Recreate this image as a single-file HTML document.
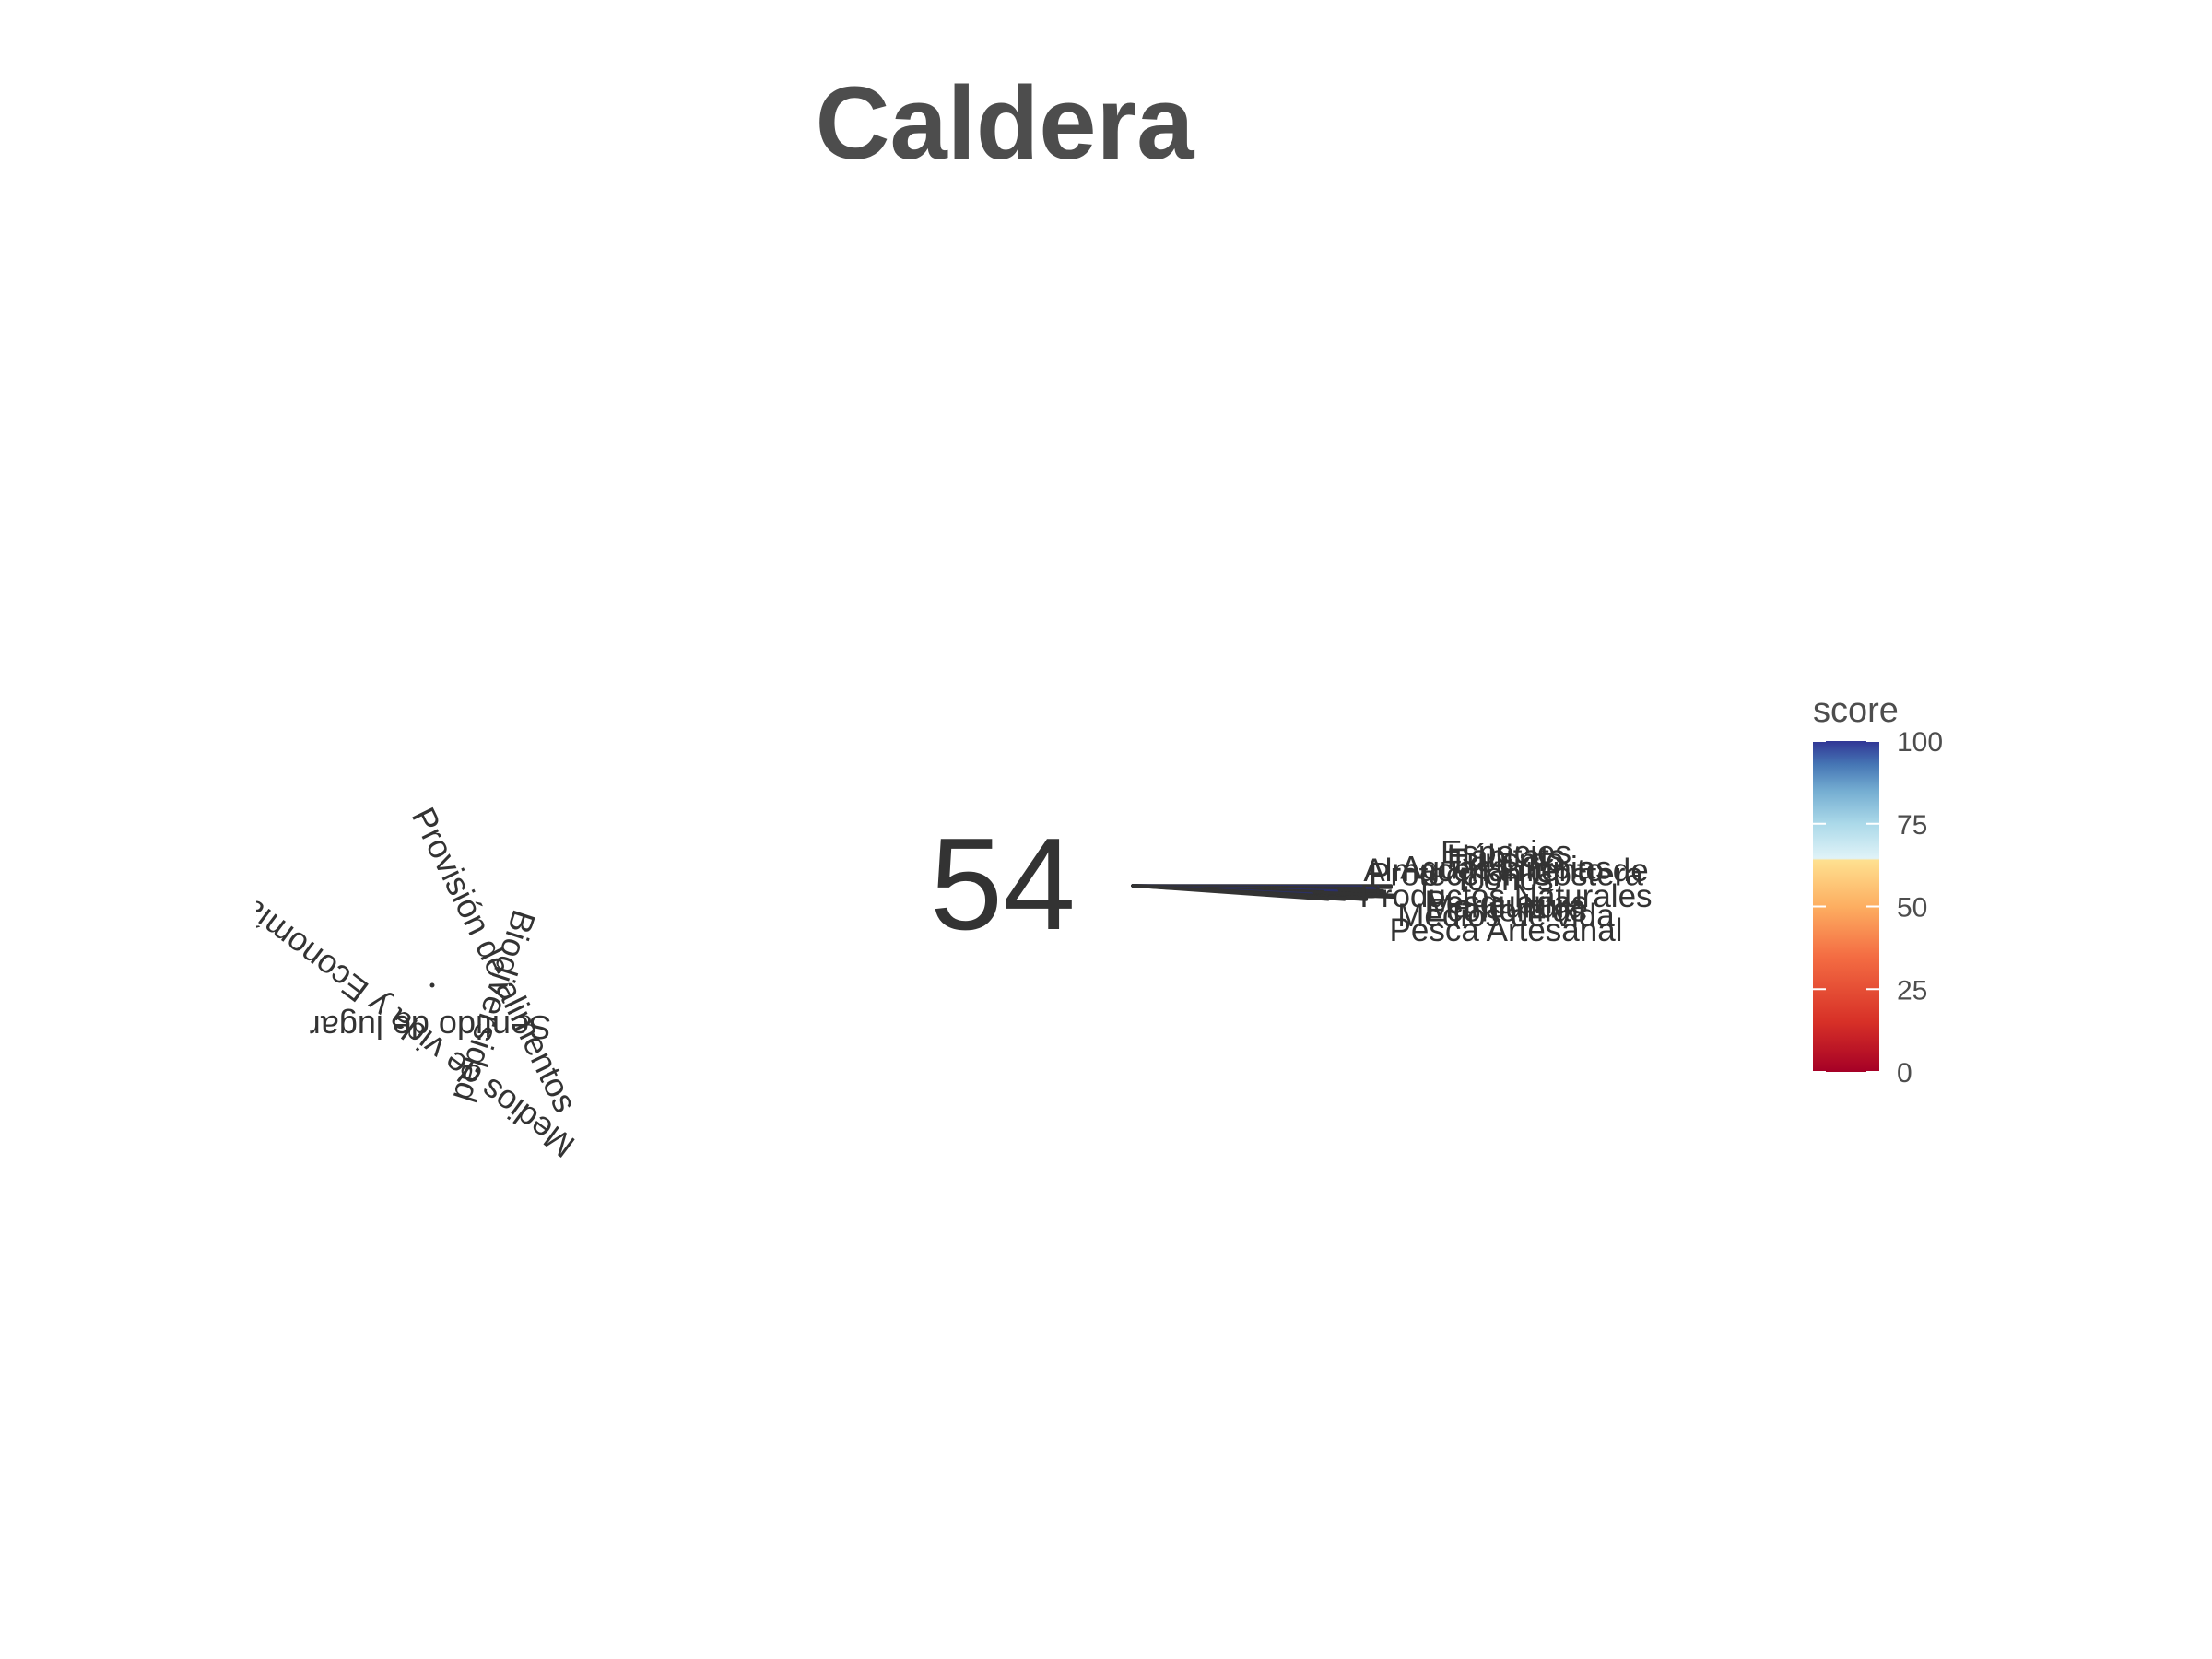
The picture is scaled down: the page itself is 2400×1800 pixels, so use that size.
<!DOCTYPE html>
<html><head><meta charset="utf-8"><style>
html,body{margin:0;padding:0;background:#fff;}
svg{display:block;font-family:"Liberation Sans",sans-serif;}
</style></head><body>
<svg width="2400" height="1800" viewBox="0 0 2400 1800">
<defs>
<linearGradient id="cb" x1="0" y1="1" x2="0" y2="0">
<stop offset="0" stop-color="#a50026"/><stop offset="0.15" stop-color="#d73027"/><stop offset="0.35" stop-color="#f46d43"/><stop offset="0.5" stop-color="#fdae61"/><stop offset="0.64" stop-color="#fee090"/><stop offset="0.645" stop-color="#e0f3f8"/><stop offset="0.75" stop-color="#abd9e9"/><stop offset="0.85" stop-color="#74add1"/><stop offset="0.93" stop-color="#4575b4"/><stop offset="1" stop-color="#313695"/>
</linearGradient>
<clipPath id="pc"><rect x="278" y="0" width="2122" height="1800"/></clipPath>
</defs>
<text x="1090" y="172" text-anchor="middle" font-size="112" font-weight="bold" fill="#4d4d4d">Caldera</text>
<text x="1088" y="1008" text-anchor="middle" font-size="142" fill="#333">54</text>

<g clip-path="url(#pc)" fill="#333" font-size="36">
<text transform="translate(446,884) rotate(64)">Provisión de alimentos</text>
<text transform="translate(558,985) rotate(108)">Biodiversidad</text>
<text transform="translate(626,1238) rotate(217)">Medios de vida y Economía</text>
<text transform="translate(598,1102) rotate(180)">Sentido de lugar</text>
<circle cx="469" cy="1069" r="2.5"/>
</g>

<g id="petals"></g>
<g id="labels" fill="#333" font-size="35" text-anchor="middle"></g>

<rect x="1967" y="804" width="72" height="359" fill="url(#cb)"/>
<text x="1967" y="783" font-size="38" fill="#4d4d4d">score</text>
<g id="cbt" font-size="30" fill="#4d4d4d"></g>
</svg>
<script>
const goals = ["Especies","Hábitats","Turismo","Aguas Limpias","Almacenamiento de","Protección Costera","Iconos","Productos Naturales","Pesquerías","Maricultura","Economías","Medios de vida","Pesca Artesanal"];
const scores = [95,90,85,80,92,75,70,96,62,66,86,78,72];
const petalAngles = [0.2,0.5,0.8,1.1,1.4,1.7,2.0,2.3,2.6,2.9,3.2,3.5,3.8];
const labelAngles = [-5.2,-4.6,-4.0,-2.8,-2.4,-1.8,-1.0,1.6,2.6,3.2,3.8,4.6,6.9];
const cbTicks = [0,25,50,75,100];
const NS = "http://www.w3.org/2000/svg";
const cx = 1229, cy = 961, rMax = 295;
function rad(a){return a*Math.PI/180;}
function rScale(v){return v/100*rMax;}
function cbY(v){return 1163 - v/100*359;}
const pg = document.getElementById('petals');
scores.forEach((s,i)=>{
  const a = rad(petalAngles[i]), w = rad(0.2), r = rScale(s);
  const p = document.createElementNS(NS,'path');
  const x1 = cx + r*Math.cos(a-w), y1 = cy + r*Math.sin(a-w);
  const x2 = cx + r*Math.cos(a+w), y2 = cy + r*Math.sin(a+w);
  p.setAttribute('d',`M${cx},${cy} L${x1},${y1} L${x2},${y2} Z`);
  p.setAttribute('fill', i%3===0 ? '#e8e8ee' : '#f2f2f2');
  p.setAttribute('stroke', i%4===1 ? '#2a2f6a' : '#333');
  p.setAttribute('stroke-width','3.5');
  p.setAttribute('stroke-linejoin','round');
  
  
  pg.appendChild(p);
});
const lg = document.getElementById('labels');
goals.forEach((g,i)=>{
  const a = rad(labelAngles[i]);
  const t = document.createElementNS(NS,'text');
  t.setAttribute('x', cx + 405);
  t.setAttribute('y', cy + 400*Math.sin(a) + 12);
  t.textContent = g;
  
  
  lg.appendChild(t);
});
const tg = document.getElementById('cbt');
cbTicks.forEach(v=>{
  const y = cbY(v);
  [[1967,1981],[2025,2039]].forEach(([a,b])=>{
    const l = document.createElementNS(NS,'line');
    l.setAttribute('x1',a);l.setAttribute('x2',b);l.setAttribute('y1',y);l.setAttribute('y2',y);
    l.setAttribute('stroke','#fff');l.setAttribute('stroke-width','2');
    
    
    tg.appendChild(l);
  });
  const t = document.createElementNS(NS,'text');
  t.setAttribute('x',2058);t.setAttribute('y',y+11);
  t.textContent = v;
  
  
  tg.appendChild(t);
});
</script>
</body></html>
